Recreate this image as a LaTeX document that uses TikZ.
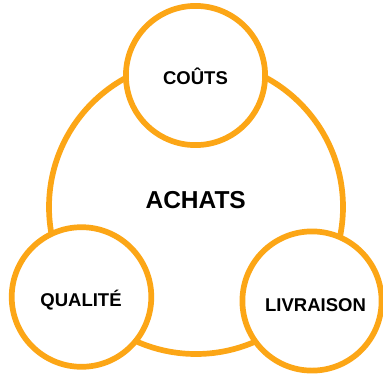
\documentclass[tikz,border=0pt]{standalone}
\usepackage{fontspec}
\setmainfont{Liberation Sans}
\definecolor{ring}{RGB}{252,166,22}
\begin{document}
\begin{tikzpicture}[x=1pt,y=-1pt,
  ringline/.style={draw=ring,line width=5.7pt,fill=white},
  lbl/.style={font=\bfseries\fontsize{18.5}{20}\selectfont,anchor=base,inner sep=0pt},
  biglbl/.style={font=\bfseries\fontsize{24.5}{26}\selectfont,anchor=base,inner sep=0pt}]
\useasboundingbox (0,0) rectangle (383,376);
\clip (0,0) rectangle (383,376);
\draw[ringline] (196,207) circle (147);
\draw[ringline] (195.5,75.5) circle (69.6);
\draw[ringline] (81.5,297) circle (69.8);
\draw[ringline] (312,301) circle (69.6);
\node[biglbl] (achats) at (195.7,208.8) {ACHATS};
\node[lbl] (couts) at (195.5,84.6) {COÛTS};
\node[lbl] (qualite) at (81,306.6) {QUALITÉ};
\node[lbl] (livraison) at (315.5,311.3) {LIVRAISON};
\end{tikzpicture}
\end{document}
